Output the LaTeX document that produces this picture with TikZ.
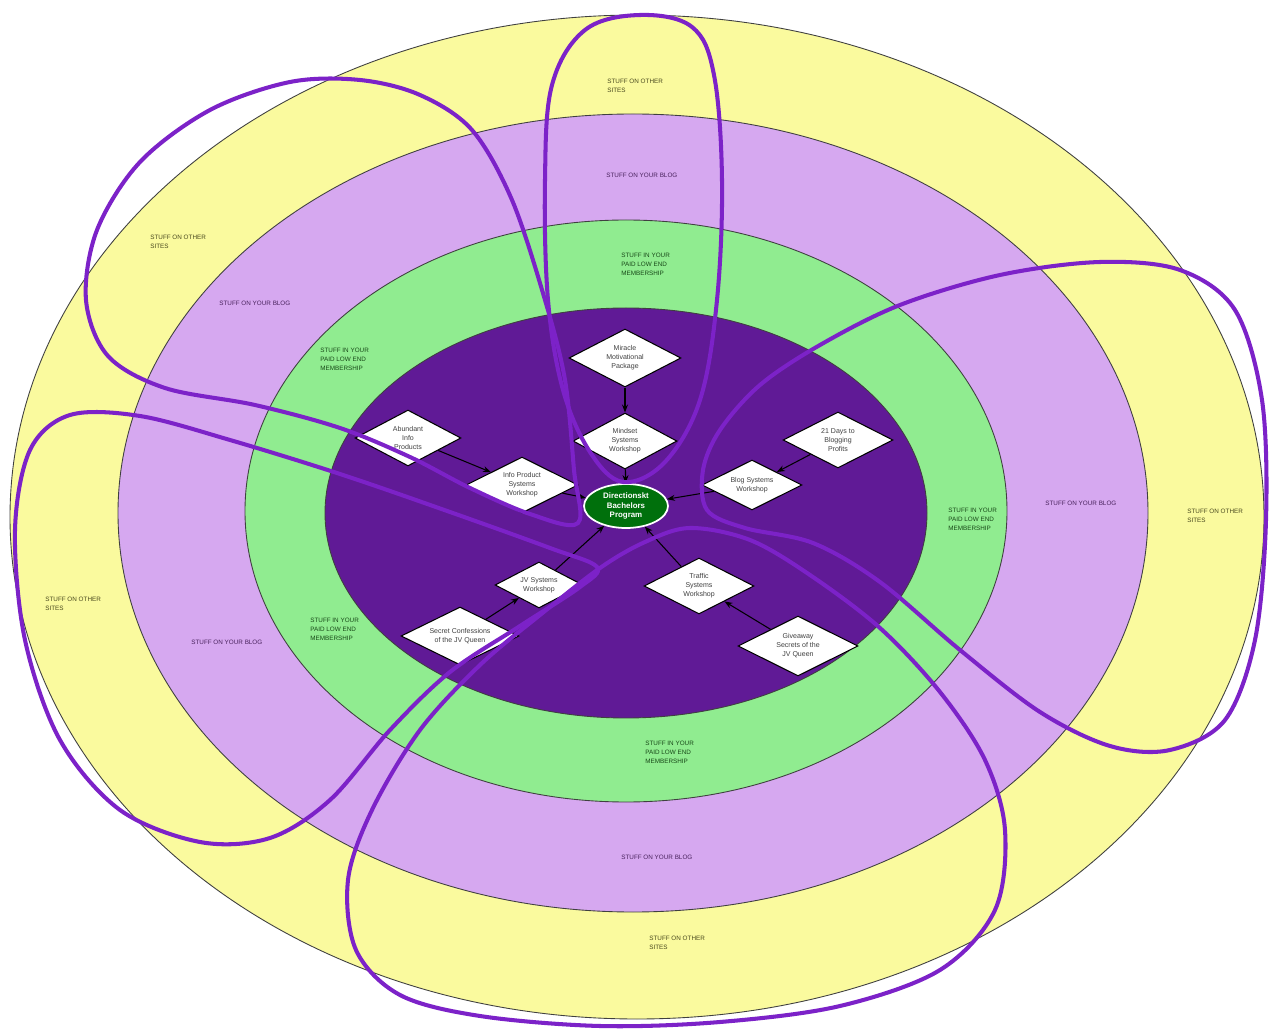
\documentclass[tikz,border=0pt]{standalone}
\usepackage{fontspec}
\setmainfont{Liberation Sans}
\usepackage{xcolor}
\usetikzlibrary{positioning, arrows.meta, shapes.geometric}
\definecolor{ringYellow}{RGB}{250,250,158}
\definecolor{ringLilac}{RGB}{214,168,240}
\definecolor{ringGreen}{RGB}{144,236,144}
\definecolor{ringPurple}{RGB}{96,26,150}
\definecolor{loopPurple}{RGB}{124,34,200}
\definecolor{progGreen}{RGB}{0,112,12}
\definecolor{txtOlive}{RGB}{72,72,30}
\definecolor{txtPlum}{RGB}{72,34,92}
\definecolor{txtLeaf}{RGB}{24,72,24}

\begin{document}
\begin{tikzpicture}[
    x=0.02cm, y=-0.02cm,
    ring/.style={draw=black!75, line width=0.5pt},
    zone/.style={font=\fontsize{3.6}{5}\selectfont, align=left, anchor=north west, inner sep=0pt},
    task/.style={diamond, draw=black, fill=white, line width=0.6pt, aspect=2, inner sep=0pt, font=\fontsize{4}{5.1}\selectfont, text=black!75, align=center},
    goal/.style={ellipse, draw=white, line width=1pt, fill=progGreen, text=white, font=\fontsize{4.5}{5.4}\selectfont\bfseries, align=center, minimum width=1.68cm, minimum height=0.88cm, inner sep=0pt},
    arrow/.style={-{Stealth[length=1.6mm, width=1.2mm]}, line width=0.6pt},
    petal/.style={draw=loopPurple, line width=2.3pt}
]
\useasboundingbox[fill=white] (0,0) rectangle (1269,1030);

% Rings
\draw[ring, fill=ringYellow] (637,517) ellipse [x radius=627, y radius=502];
\draw[ring, fill=ringLilac] (633,513) ellipse [x radius=515, y radius=399];
\draw[ring, fill=ringGreen] (626,511) ellipse [x radius=381, y radius=291];
\draw[ring, fill=ringPurple] (626,513) ellipse [x radius=301, y radius=205];

% Ring labels
\node[zone, text=txtOlive] (sites-n) at (607,79) {STUFF ON OTHER\\SITES};
\node[zone, text=txtPlum] (blog-n) at (606,173) {STUFF ON YOUR BLOG};
\node[zone, text=txtLeaf] (paid-n) at (621,253) {STUFF IN YOUR\\PAID LOW END\\MEMBERSHIP};
\node[zone, text=txtOlive] (sites-nw) at (150,235) {STUFF ON OTHER\\SITES};
\node[zone, text=txtPlum] (blog-nw) at (219,301) {STUFF ON YOUR BLOG};
\node[zone, text=txtLeaf] (paid-nw) at (320,348) {STUFF IN YOUR\\PAID LOW END\\MEMBERSHIP};
\node[zone, text=txtLeaf] (paid-e) at (948,508) {STUFF IN YOUR\\PAID LOW END\\MEMBERSHIP};
\node[zone, text=txtPlum] (blog-e) at (1045,501) {STUFF ON YOUR BLOG};
\node[zone, text=txtOlive] (sites-e) at (1187,509) {STUFF ON OTHER\\SITES};
\node[zone, text=txtOlive] (sites-w) at (45,597) {STUFF ON OTHER\\SITES};
\node[zone, text=txtPlum] (blog-w) at (191,640) {STUFF ON YOUR BLOG};
\node[zone, text=txtLeaf] (paid-w) at (310,618) {STUFF IN YOUR\\PAID LOW END\\MEMBERSHIP};
\node[zone, text=txtLeaf] (paid-s) at (645,741) {STUFF IN YOUR\\PAID LOW END\\MEMBERSHIP};
\node[zone, text=txtPlum] (blog-s) at (621,855) {STUFF ON YOUR BLOG};
\node[zone, text=txtOlive] (sites-s) at (649,936) {STUFF ON OTHER\\SITES};

% Products
\node[task, minimum width=2.24cm, minimum height=1.16cm] (mmp) at (625,358) {Miracle\\Motivational\\Package};
\node[task, minimum width=2.08cm, minimum height=1.12cm, below=0.5cm of mmp] (msw) {Mindset\\Systems\\Workshop};
\node[task, minimum width=2.12cm, minimum height=1.12cm] (aip) at (408,438) {Abundant\\Info\\Products};
\node[task, minimum width=2.24cm, minimum height=1.12cm] (ipsw) at (522,485) {Info Product\\Systems\\Workshop};
\node[task, minimum width=2.2cm, minimum height=1.12cm] (dbp) at (838,440) {21 Days to\\Blogging\\Profits};
\node[task, minimum width=2.0cm, minimum height=1.0cm] (bsw) at (752,485) {Blog Systems\\Workshop};
\node[task, minimum width=1.76cm, minimum height=0.92cm] (jvsw) at (539,585) {JV Systems\\Workshop};
\node[task, minimum width=2.36cm, minimum height=1.16cm] (scq) at (460,636) {Secret Confessions\\of the JV Queen};
\node[task, minimum width=2.2cm, minimum height=1.12cm] (tsw) at (699,586) {Traffic\\Systems\\Workshop};
\node[task, minimum width=2.4cm, minimum height=1.2cm] (gsq) at (798,646) {Giveaway\\Secrets of the\\JV Queen};
\node[goal] (prog) at (626,506) {Directionskt\\Bachelors\\Program};

% Arrows
\draw[arrow] (mmp) -- (msw);
\draw[arrow] (msw) -- (prog);
\draw[arrow] (aip) -- (ipsw);
\draw[arrow] (ipsw) -- (prog);
\draw[arrow] (dbp) -- (bsw);
\draw[arrow] (bsw) -- (prog);
\draw[arrow] (scq) -- (jvsw);
\draw[arrow] (jvsw) -- (prog);
\draw[arrow] (gsq) -- (tsw);
\draw[arrow] (tsw) -- (prog);

% Petals
\draw[petal] plot[smooth cycle, tension=0.6] coordinates {(623,482) (590,452) (563,390) (548,300) (545,180) (552,85) (585,30) (640,15) (692,27) (714,75) (722,180) (717,300) (700,400) (665,462)};
\draw[petal] plot[smooth cycle, tension=0.55] coordinates {(578,523) (574,470) (565,380) (545,300) (512,200) (472,130) (420,95) (360,80) (290,82) (210,110) (140,162) (97,230) (86,300) (108,356) (165,388) (255,405) (340,428) (410,457) (470,488) (530,514)};
\draw[petal] plot[smooth cycle, tension=0.55] coordinates {(597,567) (550,548) (450,512) (340,474) (230,440) (140,416) (70,415) (30,450) (15,530) (25,640) (60,740) (120,810) (200,842) (270,838) (330,800) (390,730) (450,672) (520,626) (580,587)};
\draw[petal] plot[smooth cycle, tension=0.55] coordinates {(600,568) (540,615) (480,665) (420,730) (372,810) (348,880) (356,950) (400,995) (480,1016) (600,1026) (720,1022) (840,1006) (940,970) (995,910) (1005,830) (985,760) (940,692) (880,628) (810,575) (750,540) (690,528) (645,542)};
\draw[petal] plot[smooth cycle, tension=0.55] coordinates {(707,510) (703,470) (720,430) (760,385) (820,345) (900,305) (1000,275) (1100,262) (1180,270) (1235,310) (1262,400) (1266,520) (1255,640) (1225,720) (1170,750) (1110,746) (1040,712) (960,650) (880,582) (813,543) (745,528)};
\end{tikzpicture}
\end{document}
